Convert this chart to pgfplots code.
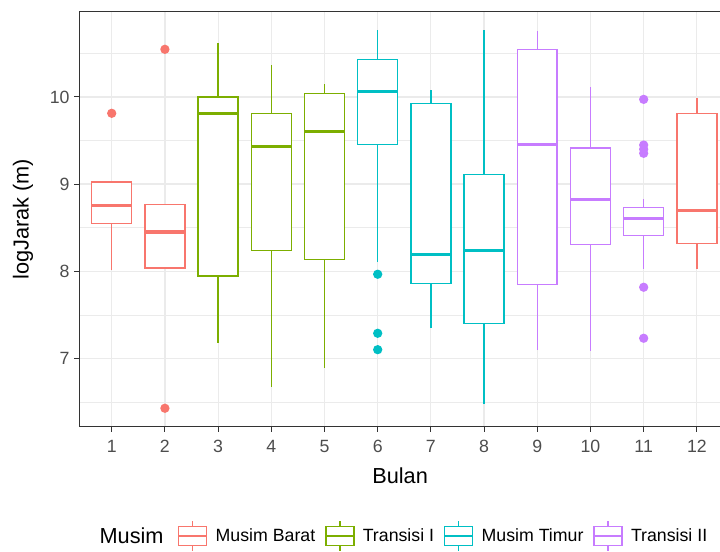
\documentclass[border=0pt]{standalone}
\usepackage{fontspec}
\setmainfont{Liberation Sans}
\usepackage{pgfplots}
\pgfplotsset{compat=1.18}
\usepgfplotslibrary{statistics}
\definecolor{cA}{HTML}{F8766D}
\definecolor{cB}{HTML}{7CAE00}
\definecolor{cC}{HTML}{00BFC4}
\definecolor{cD}{HTML}{C77CFF}
\definecolor{gridc}{HTML}{EBEBEB}
\definecolor{framec}{HTML}{333333}
\definecolor{tickc}{HTML}{4D4D4D}
\pgfplotsset{
  bx/.style={draw=#1, line width=1.1pt, solid,
    mark=*, mark size=2.9pt, mark options={solid, fill=#1, draw=none},
    boxplot/draw direction=y,
    boxplot/box extend=0.75, boxplot/whisker extend=0,
    boxplot/every box/.style={fill=white},
    boxplot/every median/.style={line width=2.5pt}},
  legbox/.style={legend image code/.code={
    \draw[#1, line width=1.1pt, fill=white] (0pt,-7.1pt) rectangle (21pt,7.1pt);
    \draw[#1, line width=1.1pt] (0pt,0pt) -- (21pt,0pt);
    \draw[#1, line width=1.1pt] (10.5pt,7.1pt) -- (10.5pt,11pt);
    \draw[#1, line width=1.1pt] (10.5pt,-7.1pt) -- (10.5pt,-11pt);
  }},
}
\begin{document}
\begin{tikzpicture}
\begin{axis}[
  scale only axis, width=481.2pt, height=311.25pt,
  xmin=0.391, xmax=12.45, ymin=6.218, ymax=10.977,
  xtick={1,...,12}, ytick={7,8,9,10},
  minor ytick={6.5,7.5,8.5,9.5,10.5},
  grid=both,
  major grid style={draw=gridc, line width=0.9pt},
  minor grid style={draw=gridc, line width=0.45pt},
  minor tick length=0pt,
  tick align=outside, major tick length=3.75pt,
  tick style={draw=framec, line width=0.8pt},
  xtick pos=bottom, ytick pos=left,
  axis line style={draw=framec, line width=1pt},
  /pgf/number format/assume math mode=true,
  ticklabel style={font=\fontsize{13.3}{16}\selectfont, text=tickc},
  xticklabel style={yshift=-3pt},
  xlabel={Bulan}, ylabel={logJarak (m)},
  label style={font=\fontsize{16.3}{19}\selectfont},
  xlabel style={at={(axis description cs:0.5,-0.1188)}, anchor=center},
  ylabel style={at={(axis description cs:-0.0878,0.5)}, anchor=center},
  clip=false,
  legend columns=4,
  legend style={at={(axis description cs:0.1534,-0.2634)}, anchor=west,
    draw=none, fill=none, inner sep=0pt,
    font=\fontsize{13.3}{16}\selectfont,
    nodes={inner sep=0pt, anchor=west},
    /tikz/every odd column/.append style={column sep=6.2pt},
    /tikz/every even column/.append style={column sep=7.4pt}},
  legend cell align=left,
]
\addlegendimage{legbox=cA}\addlegendentry{Musim Barat}
\addlegendimage{legbox=cB}\addlegendentry{Transisi I}
\addlegendimage{legbox=cC}\addlegendentry{Musim Timur}
\addlegendimage{legbox=cD}\addlegendentry{Transisi II}

\addplot[bx=cA, boxplot prepared={draw position=1, lower whisker=8.015, lower quartile=8.550, median=8.752, upper quartile=9.024, upper whisker=9.024}]
  table[row sep=\\, y index=0] {y\\ 9.812\\};
\addplot[bx=cA, boxplot prepared={draw position=2, lower whisker=8.038, lower quartile=8.038, median=8.451, upper quartile=8.764, upper whisker=8.764}]
  table[row sep=\\, y index=0] {y\\ 10.546\\ 6.429\\};
\addplot[bx=cB, boxplot prepared={draw position=3, lower whisker=7.174, lower quartile=7.946, median=9.812, upper quartile=9.999, upper whisker=10.615}]
  coordinates {};
\addplot[bx=cB, boxplot prepared={draw position=4, lower whisker=6.677, lower quartile=8.236, median=9.429, upper quartile=9.812, upper whisker=10.362}]
  coordinates {};
\addplot[bx=cB, boxplot prepared={draw position=5, lower whisker=6.894, lower quartile=8.138, median=9.601, upper quartile=10.041, upper whisker=10.148}]
  coordinates {};
\addplot[bx=cC, boxplot prepared={draw position=6, lower whisker=8.110, lower quartile=9.452, median=10.060, upper quartile=10.431, upper whisker=10.767}]
  table[row sep=\\, y index=0] {y\\ 7.966\\ 7.289\\ 7.101\\};
\addplot[bx=cC, boxplot prepared={draw position=7, lower whisker=7.353, lower quartile=7.862, median=8.195, upper quartile=9.927, upper whisker=10.079}]
  coordinates {};
\addplot[bx=cC, boxplot prepared={draw position=8, lower whisker=6.478, lower quartile=7.404, median=8.236, upper quartile=9.112, upper whisker=10.767}]
  coordinates {};
\addplot[bx=cD, boxplot prepared={draw position=9, lower whisker=7.097, lower quartile=7.847, median=9.456, upper quartile=10.546, upper whisker=10.752}]
  coordinates {};
\addplot[bx=cD, boxplot prepared={draw position=10, lower whisker=7.086, lower quartile=8.310, median=8.826, upper quartile=9.414, upper whisker=10.117}]
  coordinates {};
\addplot[bx=cD, boxplot prepared={draw position=11, lower whisker=8.023, lower quartile=8.408, median=8.608, upper quartile=8.734, upper whisker=8.826}]
  table[row sep=\\, y index=0] {y\\ 9.972\\ 9.448\\ 9.400\\ 9.353\\ 7.817\\ 7.232\\};
\addplot[bx=cA, boxplot prepared={draw position=12, lower whisker=8.023, lower quartile=8.321, median=8.695, upper quartile=9.812, upper whisker=9.991}]
  coordinates {};

\node[anchor=west, inner sep=0pt, font=\fontsize{16.3}{19}\selectfont] at (axis description cs:0.0312,-0.2634) {Musim};
\coordinate (pSW) at (rel axis cs:0,0);
\coordinate (pNE) at (rel axis cs:1,1);
\end{axis}
\pgfresetboundingbox
\path[use as bounding box] ([shift={(-59.5pt,-94pt)}]pSW) rectangle ([shift={(-0.6pt,8.8pt)}]pNE);
\end{tikzpicture}
\end{document}
